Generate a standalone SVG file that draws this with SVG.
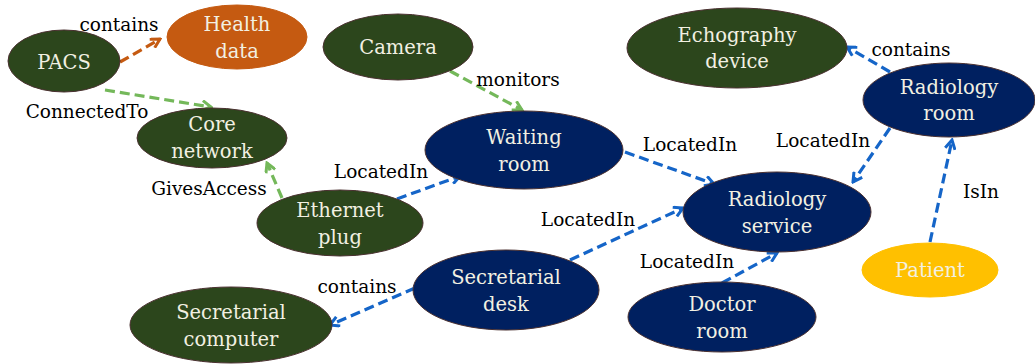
<svg xmlns="http://www.w3.org/2000/svg" width="1035" height="364" viewBox="0 0 1035 364">
<style>
.g{fill:#2c461c;stroke:#4a3030;stroke-width:1}
.b{fill:#002060;stroke:#4a3030;stroke-width:1}
.o{fill:#c55a11;stroke:#c55a11;stroke-width:1}
.y{fill:#ffc000;stroke:#ffc000;stroke-width:1}
.t{font-family:"DejaVu Serif",serif;font-size:19.5px;fill:#f2f0e2;text-anchor:middle}
.l{font-family:"DejaVu Serif",serif;font-size:18.5px;fill:#000;text-anchor:middle}
.e{fill:none;stroke-width:3.2;stroke-dasharray:10 5}
.eb{stroke:#1565c8}
.eg{stroke:#74b85a}
.eo{stroke:#c55a11}
</style>
<defs>
<marker id="mb" viewBox="0 0 12 12" markerWidth="12" markerHeight="12" refX="10" refY="6" orient="auto" markerUnits="userSpaceOnUse"><path d="M1,1 L10,6 L1,11" fill="none" stroke="#1565c8" stroke-width="3"/></marker>
<marker id="mg" viewBox="0 0 12 12" markerWidth="12" markerHeight="12" refX="10" refY="6" orient="auto" markerUnits="userSpaceOnUse"><path d="M1,1 L10,6 L1,11" fill="none" stroke="#74b85a" stroke-width="3"/></marker>
<marker id="mo" viewBox="0 0 12 12" markerWidth="12" markerHeight="12" refX="10" refY="6" orient="auto" markerUnits="userSpaceOnUse"><path d="M1,1 L10,6 L1,11" fill="none" stroke="#c55a11" stroke-width="3"/></marker>
</defs>
<g id="connectors">
<line class="e eo" x1="120" y1="62" x2="160" y2="39" marker-end="url(#mo)"/>
<line class="e eg" x1="105" y1="90" x2="211" y2="107" marker-end="url(#mg)"/>
<line class="e eg" x1="450" y1="71" x2="522" y2="110" marker-end="url(#mg)"/>
<line class="e eg" x1="282" y1="198" x2="267" y2="163" marker-end="url(#mg)"/>
<line class="e eb" x1="397" y1="199" x2="460" y2="176" marker-end="url(#mb)"/>
<line class="e eb" x1="625" y1="152" x2="714" y2="184" marker-end="url(#mb)"/>
<line class="e eb" x1="890" y1="128" x2="853" y2="182" marker-end="url(#mb)"/>
<line class="e eb" x1="890" y1="72" x2="847" y2="47" marker-end="url(#mb)"/>
<line class="e eb" x1="930" y1="242" x2="952" y2="140" marker-end="url(#mb)"/>
<line class="e eb" x1="570" y1="260" x2="683" y2="208" marker-end="url(#mb)"/>
<line class="e eb" x1="722" y1="283" x2="777" y2="253" marker-end="url(#mb)"/>
<line class="e eb" x1="415" y1="288" x2="330" y2="325" marker-end="url(#mb)"/>
<text class="l" x="119" y="31">contains</text>
<text class="l" x="87" y="118">ConnectedTo</text>
<text class="l" x="518" y="86">monitors</text>
<text class="l" x="911" y="56">contains</text>
<text class="l" x="690" y="151">LocatedIn</text>
<text class="l" x="823" y="147">LocatedIn</text>
<text class="l" x="981" y="198">IsIn</text>
<text class="l" x="209" y="195">GivesAccess</text>
<text class="l" x="381" y="178">LocatedIn</text>
<text class="l" x="357" y="293">contains</text>
<text class="l" x="588" y="226">LocatedIn</text>
<text class="l" x="687" y="268">LocatedIn</text>
</g>
<g id="pacs"><ellipse class="g" cx="64" cy="61" rx="56" ry="31"/><text class="t" x="64" y="69">PACS</text></g>
<g id="health-data"><ellipse class="o" cx="237" cy="37" rx="70" ry="32"/><text class="t" x="237" y="31">Health</text><text class="t" x="237" y="58">data</text></g>
<g id="camera"><ellipse class="g" cx="398" cy="47" rx="75" ry="33"/><text class="t" x="398" y="54">Camera</text></g>
<g id="echography-device"><ellipse class="g" cx="737" cy="48" rx="110" ry="40"/><text class="t" x="737" y="42">Echography</text><text class="t" x="737" y="68">device</text></g>
<g id="radiology-room"><ellipse class="b" cx="949" cy="100" rx="86" ry="37"/><text class="t" x="949" y="94">Radiology</text><text class="t" x="949" y="120">room</text></g>
<g id="core-network"><ellipse class="g" cx="212" cy="138" rx="75" ry="30"/><text class="t" x="212" y="131">Core</text><text class="t" x="212" y="158">network</text></g>
<g id="ethernet-plug"><ellipse class="g" cx="340" cy="223" rx="83" ry="33"/><text class="t" x="340" y="217">Ethernet</text><text class="t" x="340" y="244">plug</text></g>
<g id="waiting-room"><ellipse class="b" cx="524" cy="150" rx="99" ry="39"/><text class="t" x="524" y="144">Waiting</text><text class="t" x="524" y="171">room</text></g>
<g id="radiology-service"><ellipse class="b" cx="777" cy="212" rx="94" ry="40"/><text class="t" x="777" y="206">Radiology</text><text class="t" x="777" y="233">service</text></g>
<g id="secretarial-desk"><ellipse class="b" cx="506" cy="290" rx="93" ry="40"/><text class="t" x="506" y="284">Secretarial</text><text class="t" x="506" y="311">desk</text></g>
<g id="secretarial-computer"><ellipse class="g" cx="231" cy="325" rx="101" ry="38"/><text class="t" x="231" y="319">Secretarial</text><text class="t" x="231" y="346">computer</text></g>
<g id="doctor-room"><ellipse class="b" cx="722" cy="317" rx="94" ry="35"/><text class="t" x="722" y="311">Doctor</text><text class="t" x="722" y="338">room</text></g>
<g id="patient"><ellipse class="y" cx="930" cy="270" rx="68" ry="27"/><text class="t" x="930" y="277">Patient</text></g>
</svg>
